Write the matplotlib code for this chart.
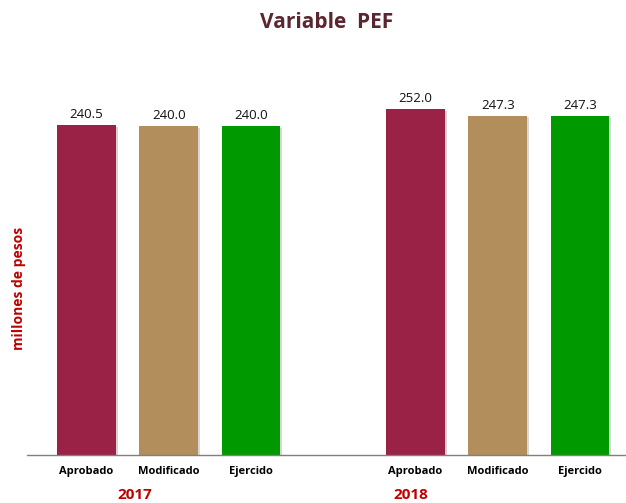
import matplotlib
matplotlib.use("Agg")
import matplotlib.pyplot as plt
import matplotlib.patheffects as pe

categories = ["Aprobado", "Modificado", "Ejercido"]
years = ["2017", "2018"]
values_2017 = [240.5, 240.0, 240.0]
values_2018 = [252.0, 247.3, 247.3]
colors = ["#9B2247", "#B38E5D", "#009A00"]

plt.rcParams['font.family'] = ['Open Sans', 'DejaVu Sans']

fig = plt.figure(figsize=(6.26, 5.03), dpi=100)
ax = fig.add_axes([0.0431, 0.0954, 0.9569, 0.7853])

positions_2017 = [0, 1, 2]
positions_2018 = [4, 5, 6]
shadow = [pe.SimplePatchShadow(offset=(1.2, -1.2), alpha=0.18), pe.Normal()]
for pos, vals in ((positions_2017, values_2017), (positions_2018, values_2018)):
    bars = ax.bar(pos, vals, width=0.715, color=colors, zorder=2)
    for b in bars:
        b.set_path_effects(shadow)
    for p, v in zip(pos, vals):
        ax.annotate(f"{v:.1f}", (p, v), xytext=(0, 3), textcoords="offset points",
                    ha="center", va="bottom", fontsize=9.5, color="#111111")

ax.set_xlim(-0.724, 6.56)
ax.set_ylim(0, 288)
for s in ["top", "right", "left"]:
    ax.spines[s].set_visible(False)
ax.spines["bottom"].set_color("#808080")
ax.spines["bottom"].set_linewidth(1.0)
ax.set_yticks([])
ax.set_xticks(positions_2017 + positions_2018)
ax.set_xticklabels(categories + categories, fontsize=8, fontweight="bold")
ax.tick_params(axis="x", length=0, pad=8)

ax.text(0.59, -0.1, years[0], transform=ax.get_xaxis_transform(), ha="center", va="center",
        fontsize=11, fontweight="bold", color="#C00000")
ax.text(3.94, -0.1, years[1], transform=ax.get_xaxis_transform(), ha="center", va="center",
        fontsize=11, fontweight="bold", color="#C00000")

fig.text(19/626, 1 - 288/503, "millones de pesos", rotation=90, ha="center", va="center",
         fontsize=10, fontweight="bold", color="#C00000")
fig.text(327/626, 1 - 22/503, "Variable  PEF", ha="center", va="center",
         fontsize=15, fontweight="bold", color="#5B2630")

fig.savefig("out.png", dpi=100)
